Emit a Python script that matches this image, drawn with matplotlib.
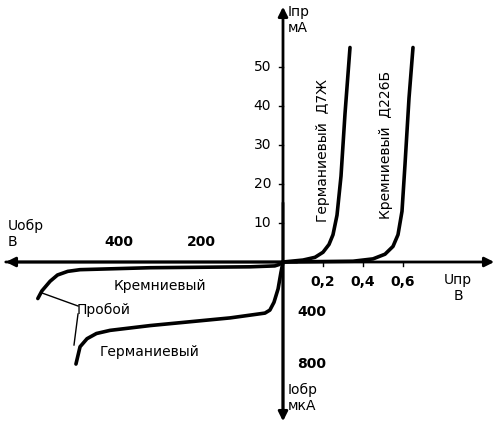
import matplotlib
matplotlib.use("Agg")
import matplotlib.pyplot as plt
import numpy as np

# forward (V, mA)
ge_fwd_v = [0, 0.1, 0.16, 0.2, 0.23, 0.25, 0.27, 0.29, 0.31, 0.335]
ge_fwd_i = [0, 0.5, 1.2, 2.5, 4.5, 7, 12, 22, 38, 55]
si_fwd_v = [0, 0.35, 0.45, 0.51, 0.55, 0.575, 0.595, 0.61, 0.63, 0.65]
si_fwd_i = [0, 0.2, 0.8, 2, 4, 7, 13, 25, 42, 55]
# reverse (V, uA)
ge_rev_v = [0, 5, 12, 22, 32, 44, 129, 324, 422, 455, 478, 495, 505]
ge_rev_i = [0, 80, 207, 310, 370, 393, 430, 489, 526, 550, 590, 652, 785]
si_rev_v = [0, 10, 20, 80, 324, 495, 525, 550, 568, 588, 598]
si_rev_i = [0, 20, 30, 37, 44, 59, 72, 100, 148, 222, 281]

fwd_y_ticks = [10, 20, 30, 40, 50]
fwd_x_ticks = [0.2, 0.4, 0.6]
rev_x_ticks = [200, 400]
rev_y_ticks = [400, 800]

KX_F, KY_F, KX_R, KY_R = 200, 3.9, 0.41, 0.13

fig = plt.figure(figsize=(5, 4.34), dpi=100)
ax = fig.add_axes([0, 0, 1, 1])
ax.set_xlim(-283, 217)
ax.set_ylim(-172, 262)
ax.axis("off")

def P(x, y):  # pixel -> data
    return x - 283, 262 - y

lw = 2.6
kw = dict(color="k", lw=lw, solid_joinstyle="round", solid_capstyle="round")
ax.plot(np.array(ge_fwd_v) * KX_F, np.array(ge_fwd_i) * KY_F, **kw)
ax.plot(np.array(si_fwd_v) * KX_F, np.array(si_fwd_i) * KY_F, **kw)
ax.plot(-np.array(ge_rev_v) * KX_R, -np.array(ge_rev_i) * KY_R, **kw)
ax.plot(-np.array(si_rev_v) * KX_R, -np.array(si_rev_i) * KY_R, **kw)

ap = dict(arrowstyle="-|>", color="k", lw=2, mutation_scale=14)
ax.annotate("", xy=P(497, 262), xytext=P(3, 262), arrowprops=ap)
ax.annotate("", xy=P(3, 262), xytext=P(300, 262), arrowprops=ap)
ax.annotate("", xy=P(283, 4), xytext=P(283, 420), arrowprops=ap)
ax.annotate("", xy=P(283, 424), xytext=P(283, 200), arrowprops=ap)

fs = 10
for t in fwd_y_ticks:
    y = t * KY_F
    ax.plot([-4, 0], [y, y], "k", lw=1)
    ax.text(-12, y, str(t), ha="right", va="center", fontsize=fs)
for t in fwd_x_ticks:
    x = t * KX_F
    ax.plot([x, x], [0, -4], "k", lw=1)
    ax.text(x, -20, str(t).replace(".", ","), ha="center", va="center", fontsize=fs, weight="bold")
for t in rev_x_ticks:
    x = -t * KX_R
    ax.text(x, 20, str(t), ha="center", va="center", fontsize=fs, weight="bold")
for t in rev_y_ticks:
    y = -t * KY_R
    ax.text(14, y + 2, str(t), ha="left", va="center", fontsize=fs, weight="bold")

ax.text(*P(288, 20), "Iпр\nмА", fontsize=fs, va="center", linespacing=1.1)
ax.text(*P(458, 288), "Uпр\nВ", fontsize=fs, va="center", ha="center", linespacing=1.2)
ax.text(*P(8, 234), "Uобр\nВ", fontsize=fs, va="center", linespacing=1.2)
ax.text(*P(288, 398), "Iобр\nмкА", fontsize=fs, va="center", linespacing=1.1)
ax.text(*P(323, 150), "Германиевый  Д7Ж", rotation=90, fontsize=fs, ha="center", va="center")
ax.text(*P(386, 145), "Кремниевый  Д226Б", rotation=90, fontsize=fs, ha="center", va="center")
ax.text(*P(160, 286), "Кремниевый", fontsize=fs, ha="center", va="center")
ax.text(*P(150, 352), "Германиевый", fontsize=fs, ha="center", va="center")
ax.text(*P(104, 310), "Пробой", fontsize=fs, ha="center", va="center")
ax.plot(*zip(P(78, 306), P(42, 293)), "k", lw=1)
ax.plot(*zip(P(78, 314), P(74, 345)), "k", lw=1)

fig.savefig("out.png", dpi=100)
